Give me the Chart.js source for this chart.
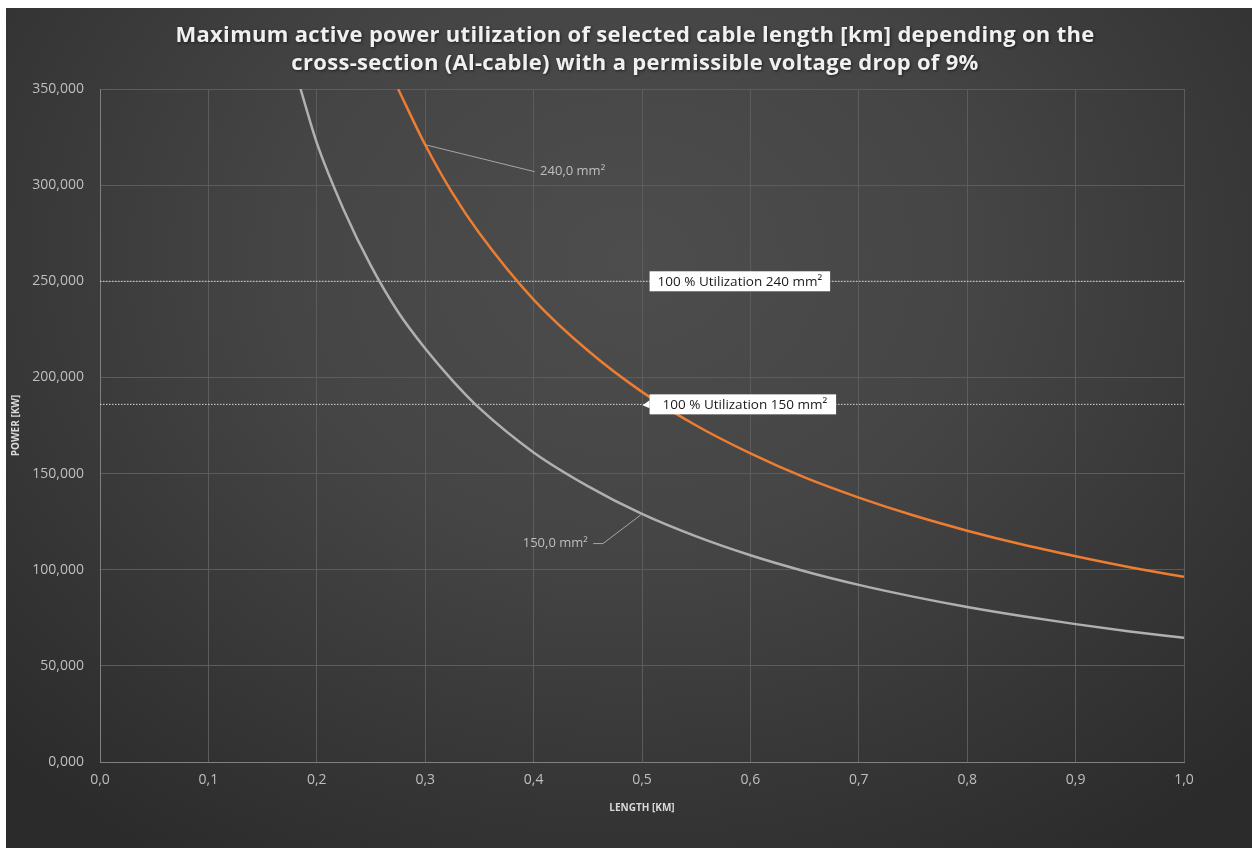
<!DOCTYPE html>
<html>
<head>
<meta charset="utf-8">
<script src="https://cdn.jsdelivr.net/npm/chart.js@4.4.1/dist/chart.umd.min.js"></script>
<style>
  html, body { margin: 0; padding: 0; background: #ffffff; }
  #frame {
    position: absolute; left: 6px; top: 8px; width: 1246px; height: 840px;
    background: radial-gradient(ellipse 70% 85% at 50% 30%, #4d4d4d 0%, #454545 40%, #2b2b2b 100%);
  }
  #chart { display: block; }
</style>
</head>
<body>
<div id="frame"><canvas id="chart" width="1246" height="840"></canvas></div>
<script>
// values
const lengths150 = [0.185, 0.2, 0.225, 0.25, 0.275, 0.3, 0.325, 0.35, 0.4, 0.45, 0.5, 0.55, 0.6, 0.65, 0.7, 0.75, 0.8, 0.85, 0.9, 0.95, 1.0];
const power150 = [350000, 322000, 287000, 258000, 234000, 215000, 198500, 184000, 161000, 143500, 129000, 117300, 107500, 99200, 92100, 86000, 80600, 75900, 71700, 67900, 64600];

const lengths240 = [0.275, 0.3, 0.325, 0.35, 0.4, 0.45, 0.5, 0.55, 0.6, 0.65, 0.7, 0.75, 0.8, 0.85, 0.9, 0.95, 1.0];
const power240 = [350000, 321000, 296000, 275000, 240500, 214000, 192500, 175000, 160500, 148000, 137500, 128300, 120300, 113200, 107000, 101300, 96300];

const limitValues = [250000, 186000];
const limitLabels = ['100 % Utilization 240 mm²', '100 % Utilization 150 mm²'];

const xRange = [0, 1];
const yRange = [0, 350000];

const titleLines = [
  'Maximum active power utilization of selected cable length [km] depending on the',
  'cross-section (Al-cable) with a permissible voltage drop of 9%'
];

const FONT = "'Open Sans', 'Noto Sans', sans-serif";

function toPoints(xs, ys) {
  return xs.map((x, i) => ({ x: x, y: ys[i] }));
}

function limitPoints(v) {
  return [{ x: xRange[0], y: v }, { x: xRange[1], y: v }];
}

// title is drawn by hand so it can sit centred on the whole frame
const titlePlugin = {
  id: 'bigTitle',
  afterDraw(chart) {
    const ctx = chart.ctx;
    ctx.save();
    ctx.font = 'bold 22px ' + FONT;
    ctx.letterSpacing = '0.3px';
    ctx.fillStyle = '#f0f0f0';
    ctx.textAlign = 'center';
    ctx.textBaseline = 'middle';
    ctx.shadowColor = 'rgba(0,0,0,0.55)';
    ctx.shadowBlur = 3;
    ctx.shadowOffsetX = 1;
    ctx.shadowOffsetY = 1;
    ctx.fillText(titleLines[0], 629, 28);
    ctx.fillText(titleLines[1], 629, 56);
    ctx.restore();
  }
};

// leader lines, curve names and the white utilization boxes
const overlayPlugin = {
  id: 'overlay',
  afterDatasetsDraw(chart) {
    const ctx = chart.ctx;
    const xs = chart.scales.x;
    const ys = chart.scales.y;
    const px = (v) => xs.getPixelForValue(v);
    const py = (v) => ys.getPixelForValue(v);

    ctx.save();
    ctx.strokeStyle = '#a6a6a6';
    ctx.lineWidth = 1;

    // 240 mm² label
    ctx.beginPath();
    ctx.moveTo(px(0.3), py(321000));
    ctx.lineTo(px(0.401), py(307000));
    ctx.stroke();

    // 150 mm² label
    ctx.beginPath();
    ctx.moveTo(px(0.5), py(129000));
    ctx.lineTo(px(0.464), py(113600));
    ctx.lineTo(px(0.455), py(113600));
    ctx.stroke();

    ctx.font = '13px ' + FONT;
    ctx.fillStyle = '#bfbfbf';
    ctx.textBaseline = 'middle';
    ctx.textAlign = 'left';
    ctx.fillText('240,0 mm²', px(0.406), py(307000));
    ctx.textAlign = 'right';
    ctx.fillText('150,0 mm²', px(0.450), py(113600));

    // utilization boxes
    ctx.font = '13.5px ' + FONT;
    ctx.textAlign = 'left';
    limitValues.forEach((v, i) => {
      const left = px(0.507);
      const cy = py(v);
      const w = ctx.measureText(limitLabels[i]).width + 16 + i * 6;
      ctx.fillStyle = '#ffffff';
      ctx.fillRect(left, cy - 10, w, 20);
      if (i === 1) {
        ctx.beginPath();
        ctx.moveTo(left, cy - 4);
        ctx.lineTo(left - 7, cy + 1);
        ctx.lineTo(left, cy + 4);
        ctx.closePath();
        ctx.fill();
      }
      ctx.fillStyle = '#1a1a1a';
      ctx.fillText(limitLabels[i], left + 8 + i * 5, cy + 1);
    });
    ctx.restore();
  }
};

const ctx = document.getElementById('chart').getContext('2d');

new Chart(ctx, {
  type: 'scatter',
  data: {
    datasets: [
      {
        label: '240,0 mm²',
        data: toPoints(lengths240, power240),
        showLine: true,
        borderColor: '#ed7d31',
        borderWidth: 2.5,
        pointRadius: 0,
        cubicInterpolationMode: 'monotone'
      },
      {
        label: '150,0 mm²',
        data: toPoints(lengths150, power150),
        showLine: true,
        borderColor: '#b0b0b0',
        borderWidth: 2.5,
        pointRadius: 0,
        cubicInterpolationMode: 'monotone'
      },
      {
        label: limitLabels[0],
        data: limitPoints(limitValues[0]),
        showLine: true,
        borderColor: '#d9d9d9',
        borderWidth: 1,
        borderDash: [1.5, 1.5],
        pointRadius: 0
      },
      {
        label: limitLabels[1],
        data: limitPoints(limitValues[1]),
        showLine: true,
        borderColor: '#d9d9d9',
        borderWidth: 1,
        borderDash: [1.5, 1.5],
        pointRadius: 0
      }
    ]
  },
  options: {
    responsive: false,
    animation: false,
    layout: { padding: { left: 0, right: 68, top: 81, bottom: 0 } },
    plugins: {
      legend: { display: false },
      tooltip: { enabled: false },
      title: { display: false }
    },
    scales: {
      x: {
        type: 'linear',
        min: xRange[0],
        max: xRange[1],
        afterFit(scale) { scale.height = 86; },
        ticks: {
          stepSize: 0.1,
          padding: 10,
          color: '#bfbfbf',
          font: { family: FONT, size: 14 },
          callback: (v) => v.toFixed(1).replace('.', ',')
        },
        grid: { color: '#5c5c5c', drawTicks: false },
        border: { color: '#808080' },
        title: {
          display: true,
          text: 'LENGTH [KM]',
          color: '#d9d9d9',
          font: { family: FONT, size: 10, weight: 'bold', lineHeight: 1.2 },
          padding: { top: 0, bottom: 34 }
        }
      },
      y: {
        type: 'linear',
        min: yRange[0],
        max: yRange[1],
        afterFit(scale) { scale.width = 94; },
        ticks: {
          stepSize: 50000,
          padding: 16,
          color: '#bfbfbf',
          font: { family: FONT, size: 14 },
          callback: (v) => (v / 1000).toFixed(3).replace('.', ',')
        },
        grid: { color: '#5c5c5c', drawTicks: false },
        border: { color: '#808080' },
        title: {
          display: true,
          text: 'POWER [KW]',
          color: '#d9d9d9',
          font: { family: FONT, size: 10, weight: 'bold', lineHeight: 1.2 },
          padding: { top: 4, bottom: 0 }
        }
      }
    }
  },
  plugins: [overlayPlugin, titlePlugin]
});
</script>
</body>
</html>
